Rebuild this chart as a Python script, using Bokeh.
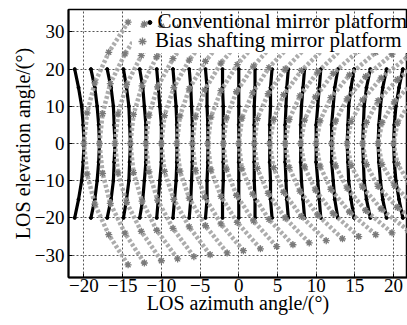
from bokeh.plotting import figure
from bokeh.models import Legend, LegendItem, FixedTicker, Range1d
from bokeh.embed import file_html
from bokeh.resources import INLINE

# ---- axis ticks ----
x_ticks = [-20, -15, -10, -5, 0, 5, 10, 15, 20]
x_tick_labels = ["\u221220", "\u221215", "\u221210", "\u22125", "0", "5", "10", "15", "20"]
y_ticks = [-30, -20, -10, 0, 10, 20, 30]
y_tick_labels = ["\u221230", "\u221220", "\u221210", "0", "10", "20", "30"]

# ---- conventional mirror platform (black dots), one curve per azimuth column ----
conv_y = [-20, -15, -10, -5, 0, 5, 10, 15, 20]
conv_x = [
    [-21.2, -20.7, -20.3, -20.1, -20.0, -20.1, -20.3, -20.7, -21.2],
    [-19.1, -18.6, -18.3, -18.1, -18.0, -18.1, -18.3, -18.6, -19.1],
    [-17.0, -16.5, -16.2, -16.1, -16.0, -16.1, -16.2, -16.5, -17.0],
    [-14.9, -14.5, -14.2, -14.1, -14.0, -14.1, -14.2, -14.5, -14.9],
    [-12.8, -12.4, -12.2, -12.0, -12.0, -12.0, -12.2, -12.4, -12.8],
    [-10.6, -10.4, -10.2, -10.0, -10.0, -10.0, -10.2, -10.4, -10.6],
    [-8.5, -8.3, -8.1, -8.0, -8.0, -8.0, -8.1, -8.3, -8.5],
    [-6.4, -6.2, -6.1, -6.0, -6.0, -6.0, -6.1, -6.2, -6.4],
    [-4.3, -4.1, -4.1, -4.0, -4.0, -4.0, -4.1, -4.1, -4.3],
    [-2.1, -2.1, -2.0, -2.0, -2.0, -2.0, -2.0, -2.1, -2.1],
    [0.0, 0.0, 0.0, 0.0, 0.0, 0.0, 0.0, 0.0, 0.0],
    [2.1, 2.1, 2.0, 2.0, 2.0, 2.0, 2.0, 2.1, 2.1],
    [4.3, 4.1, 4.1, 4.0, 4.0, 4.0, 4.1, 4.1, 4.3],
    [6.4, 6.2, 6.1, 6.0, 6.0, 6.0, 6.1, 6.2, 6.4],
    [8.5, 8.3, 8.1, 8.0, 8.0, 8.0, 8.1, 8.3, 8.5],
    [10.6, 10.4, 10.2, 10.0, 10.0, 10.0, 10.2, 10.4, 10.6],
    [12.8, 12.4, 12.2, 12.0, 12.0, 12.0, 12.2, 12.4, 12.8],
    [14.9, 14.5, 14.2, 14.1, 14.0, 14.1, 14.2, 14.5, 14.9],
    [17.0, 16.5, 16.2, 16.1, 16.0, 16.1, 16.2, 16.5, 17.0],
    [19.1, 18.6, 18.3, 18.1, 18.0, 18.1, 18.3, 18.6, 19.1],
    [21.2, 20.7, 20.3, 20.1, 20.0, 20.1, 20.3, 20.7, 21.2],
]

# ---- bias shafting mirror platform (grey asterisks), one curve per azimuth column ----
bias_x = [
    [-14.3, -16.8, -18.6, -19.6, -20.0, -19.6, -18.6, -16.8, -14.3],
    [-12.2, -14.7, -16.6, -17.6, -18.0, -17.6, -16.6, -14.7, -12.2],
    [-10.0, -12.6, -14.5, -15.6, -16.0, -15.6, -14.5, -12.6, -10.0],
    [-7.9, -10.6, -12.5, -13.6, -14.0, -13.6, -12.5, -10.6, -7.9],
    [-5.8, -8.5, -10.5, -11.6, -12.0, -11.6, -10.5, -8.5, -5.8],
    [-3.7, -6.4, -8.4, -9.6, -10.0, -9.6, -8.4, -6.4, -3.7],
    [-1.5, -4.3, -6.4, -7.6, -8.0, -7.6, -6.4, -4.3, -1.5],
    [0.6, -2.3, -4.4, -5.6, -6.0, -5.6, -4.4, -2.3, 0.6],
    [2.8, -0.2, -2.3, -3.6, -4.0, -3.6, -2.3, -0.2, 2.8],
    [4.9, 1.9, -0.3, -1.6, -2.0, -1.6, -0.3, 1.9, 4.9],
    [7.0, 3.9, 1.8, 0.4, 0.0, 0.4, 1.8, 3.9, 7.0],
    [9.1, 6.0, 3.8, 2.4, 2.0, 2.4, 3.8, 6.0, 9.1],
    [11.3, 8.1, 5.8, 4.5, 4.0, 4.5, 5.8, 8.1, 11.3],
    [13.4, 10.2, 7.9, 6.5, 6.0, 6.5, 7.9, 10.2, 13.4],
    [15.5, 12.2, 9.9, 8.5, 8.0, 8.5, 9.9, 12.2, 15.5],
    [17.7, 14.3, 11.9, 10.5, 10.0, 10.5, 11.9, 14.3, 17.7],
    [19.8, 16.4, 14.0, 12.5, 12.0, 12.5, 14.0, 16.4, 19.8],
    [21.9, 18.4, 16.0, 14.5, 14.0, 14.5, 16.0, 18.4, 21.9],
    [24.0, 20.5, 18.0, 16.5, 16.0, 16.5, 18.0, 20.5, 24.0],
    [26.2, 22.6, 20.1, 18.5, 18.0, 18.5, 20.1, 22.6, 26.2],
    [28.3, 24.7, 22.1, 20.5, 20.0, 20.5, 22.1, 24.7, 28.3],
]
bias_y = [
    [-32.6, -24.5, -16.3, -8.2, 0.0, 8.2, 16.3, 24.5, 32.6],
    [-32.1, -24.1, -16.1, -8.0, 0.0, 8.0, 16.1, 24.1, 32.1],
    [-31.5, -23.6, -15.8, -7.9, 0.0, 7.9, 15.8, 23.6, 31.5],
    [-31.0, -23.3, -15.5, -7.8, 0.0, 7.8, 15.5, 23.3, 31.0],
    [-30.4, -22.8, -15.2, -7.6, 0.0, 7.6, 15.2, 22.8, 30.4],
    [-29.9, -22.4, -15.0, -7.5, 0.0, 7.5, 15.0, 22.4, 29.9],
    [-29.4, -22.1, -14.7, -7.4, 0.0, 7.4, 14.7, 22.1, 29.4],
    [-28.8, -21.6, -14.4, -7.2, 0.0, 7.2, 14.4, 21.6, 28.8],
    [-28.3, -21.2, -14.2, -7.1, 0.0, 7.1, 14.2, 21.2, 28.3],
    [-27.7, -20.8, -13.9, -6.9, 0.0, 6.9, 13.9, 20.8, 27.7],
    [-27.2, -20.4, -13.6, -6.8, 0.0, 6.8, 13.6, 20.4, 27.2],
    [-26.7, -20.0, -13.4, -6.7, 0.0, 6.7, 13.4, 20.0, 26.7],
    [-26.1, -19.6, -13.1, -6.5, 0.0, 6.5, 13.1, 19.6, 26.1],
    [-25.6, -19.2, -12.8, -6.4, 0.0, 6.4, 12.8, 19.2, 25.6],
    [-25.0, -18.8, -12.5, -6.3, 0.0, 6.3, 12.5, 18.8, 25.0],
    [-24.5, -18.4, -12.3, -6.1, 0.0, 6.1, 12.3, 18.4, 24.5],
    [-24.0, -18.0, -12.0, -6.0, 0.0, 6.0, 12.0, 18.0, 24.0],
    [-23.4, -17.6, -11.7, -5.9, 0.0, 5.9, 11.7, 17.6, 23.4],
    [-22.9, -17.2, -11.5, -5.7, 0.0, 5.7, 11.5, 17.2, 22.9],
    [-22.3, -16.7, -11.2, -5.6, 0.0, 5.6, 11.2, 16.7, 22.3],
    [-21.8, -16.4, -10.9, -5.5, 0.0, 5.5, 10.9, 16.4, 21.8],
]

conv_label = "Conventional mirror platform"
bias_label = "Bias shafting mirror platform"

FONT = "Liberation Serif"

p = figure(width=407, height=325,
           x_range=Range1d(-22, 21.8), y_range=Range1d(-36, 36),
           output_backend="svg", toolbar_location=None,
           min_border_left=68, min_border_right=0,
           min_border_top=9, min_border_bottom=48)
p.background_fill_color = "white"
p.border_fill_color = "white"
p.outline_line_color = "black"
p.outline_line_width = 1.5

# grid
p.grid.grid_line_color = "#555555"
p.grid.grid_line_dash = "2 2"
p.grid.grid_line_width = 1

# axes
p.xaxis.ticker = FixedTicker(ticks=x_ticks)
p.yaxis.ticker = FixedTicker(ticks=y_ticks)
p.xaxis.major_label_overrides = dict(zip(x_ticks, x_tick_labels))
p.yaxis.major_label_overrides = dict(zip(y_ticks, y_tick_labels))
p.xaxis.axis_label = "LOS azimuth angle/(\u00b0)"
p.yaxis.axis_label = "LOS elevation angle/(\u00b0)"
for ax in (p.xaxis, p.yaxis):
    ax.axis_line_color = "black"
    ax.axis_line_width = 2
    ax.major_tick_in = 4
    ax.major_tick_out = 0
    ax.major_tick_line_color = "black"
    ax.minor_tick_line_color = None
    ax.major_label_text_font = FONT
    ax.major_label_text_font_size = "19px"
    ax.major_label_text_color = "black"
    ax.axis_label_text_font = FONT
    ax.axis_label_text_font_size = "20px"
    ax.axis_label_text_font_style = "normal"
    ax.axis_label_text_color = "black"
p.xaxis.major_label_standoff = 1
p.xaxis.axis_label_standoff = -3
p.yaxis.major_label_standoff = 4
p.yaxis.axis_label_standoff = -2

# black curves
p.multi_line(conv_x, [conv_y] * len(conv_x), line_color="black", line_width=3.2)
conv_fx = [v for row in conv_x for v in row]
conv_fy = [v for row in conv_x for v in conv_y]
dots = p.scatter(conv_fx, conv_fy, marker="circle", size=3, fill_color="black", line_color="black")

# grey curves
p.multi_line(bias_x, bias_y, line_color="#a3a3a3", line_width=4.5, line_dash="3 2", line_alpha=0.9)
bias_fx = [v for row in bias_x for v in row]
bias_fy = [v for row in bias_y for v in row]
stars = p.scatter(bias_fx, bias_fy, marker="asterisk", size=7, line_color="#7a7a7a", line_width=1.3)

common = dict(border_line_color=None, padding=0, margin=0, spacing=0,
              label_standoff=3, label_height=20,
              label_text_font=FONT, label_text_font_size="21px",
              label_text_color="black")

# lower legend row carries the white background; upper row is drawn on top of it
legB = Legend(items=[LegendItem(label=bias_label, renderers=[stars])],
              location=(64, 224), glyph_width=20, glyph_height=24, label_width=260,
              background_fill_color="white", background_fill_alpha=1.0, **common)
legA = Legend(items=[LegendItem(label=conv_label, renderers=[dots])],
              location="top_right", glyph_width=10, glyph_height=20,
              background_fill_alpha=0.0, **common)
p.add_layout(legB)
p.add_layout(legA)

open("out.html", "w").write(file_html(p, INLINE))
